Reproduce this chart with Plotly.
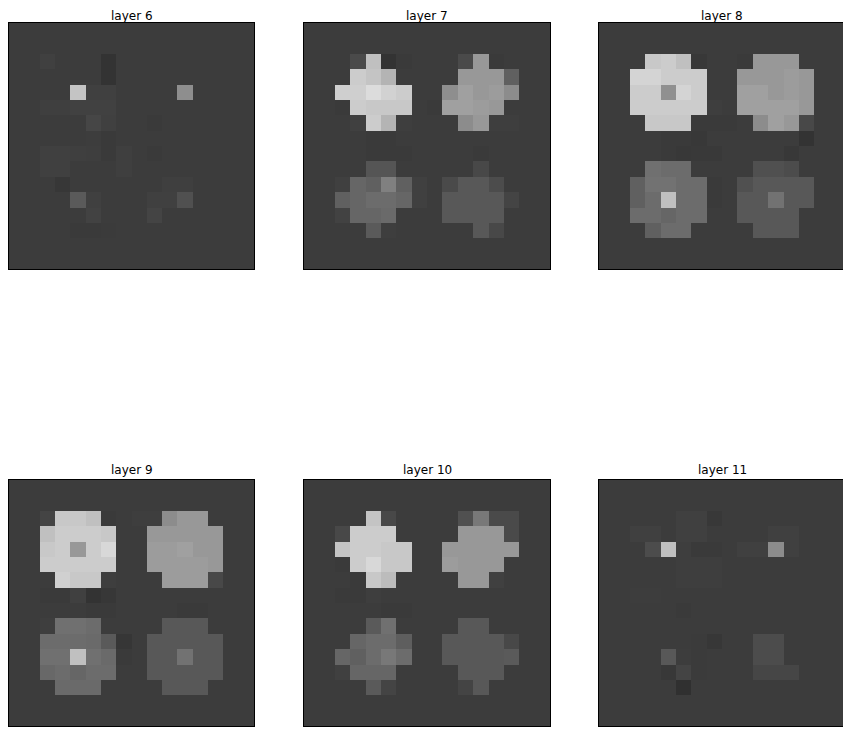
import plotly.graph_objects as go
from plotly.subplots import make_subplots

# grey levels (0-255) for each 16x16 layer
layer_titles = ["layer 6", "layer 7", "layer 8", "layer 9", "layer 10", "layer 11"]

layer6 = [
    [60, 60, 60, 60, 60, 60, 60, 60, 60, 60, 60, 60, 60, 60, 60, 60],
    [60, 60, 60, 60, 60, 60, 60, 60, 60, 60, 60, 60, 60, 60, 60, 60],
    [60, 60, 64, 60, 60, 60, 51, 60, 60, 60, 60, 60, 60, 60, 60, 60],
    [60, 60, 60, 60, 60, 60, 51, 60, 60, 60, 60, 60, 60, 60, 60, 60],
    [60, 60, 60, 60, 196, 64, 64, 60, 60, 60, 60, 142, 60, 60, 60, 60],
    [60, 60, 63, 63, 65, 65, 65, 60, 60, 60, 60, 60, 60, 60, 60, 60],
    [60, 60, 60, 60, 60, 70, 64, 60, 60, 58, 60, 60, 60, 60, 60, 60],
    [60, 60, 60, 60, 60, 61, 58, 60, 60, 60, 60, 60, 60, 60, 60, 60],
    [60, 60, 64, 64, 63, 62, 58, 63, 60, 58, 60, 60, 60, 60, 60, 60],
    [60, 60, 64, 64, 60, 60, 60, 63, 60, 60, 60, 60, 60, 60, 60, 60],
    [60, 60, 60, 55, 60, 60, 60, 60, 60, 60, 63, 63, 60, 60, 60, 60],
    [60, 60, 60, 60, 90, 64, 60, 60, 60, 64, 64, 80, 60, 60, 60, 60],
    [60, 60, 60, 60, 60, 66, 60, 60, 60, 68, 60, 60, 60, 60, 60, 60],
    [60, 60, 60, 60, 58, 58, 59, 60, 60, 60, 60, 60, 60, 60, 60, 60],
    [60, 60, 60, 60, 60, 60, 60, 60, 60, 60, 60, 60, 60, 60, 60, 60],
    [60, 60, 60, 60, 60, 60, 60, 60, 60, 60, 60, 60, 60, 60, 60, 60],
]

layer7 = [
    [60, 60, 60, 60, 60, 60, 60, 60, 60, 60, 60, 60, 60, 60, 60, 60],
    [60, 60, 60, 60, 60, 60, 60, 60, 60, 60, 60, 60, 60, 60, 60, 60],
    [60, 60, 60, 74, 192, 51, 58, 60, 60, 60, 74, 152, 58, 60, 60, 60],
    [60, 60, 60, 204, 196, 180, 60, 60, 60, 60, 152, 152, 152, 96, 60, 60],
    [60, 60, 207, 207, 220, 210, 204, 60, 60, 142, 160, 152, 156, 140, 60, 60],
    [60, 60, 58, 204, 200, 200, 200, 60, 58, 160, 160, 156, 152, 60, 60, 60],
    [60, 60, 60, 64, 204, 180, 62, 60, 60, 60, 140, 152, 62, 62, 60, 60],
    [60, 60, 60, 60, 58, 58, 60, 60, 60, 60, 60, 60, 60, 60, 60, 60],
    [60, 60, 60, 60, 58, 58, 58, 60, 60, 60, 60, 58, 60, 60, 60, 60],
    [60, 60, 60, 60, 85, 85, 60, 60, 60, 60, 60, 72, 60, 60, 60, 60],
    [60, 60, 64, 102, 96, 128, 96, 64, 60, 74, 88, 88, 76, 60, 60, 60],
    [60, 60, 96, 102, 108, 108, 102, 64, 60, 88, 88, 88, 88, 68, 60, 60],
    [60, 60, 66, 102, 102, 106, 60, 60, 60, 88, 88, 88, 88, 60, 60, 60],
    [60, 60, 60, 60, 90, 62, 60, 60, 60, 60, 60, 88, 72, 60, 60, 60],
    [60, 60, 60, 60, 60, 60, 60, 60, 60, 60, 60, 60, 60, 60, 60, 60],
    [60, 60, 60, 60, 60, 60, 60, 60, 60, 60, 60, 60, 60, 60, 60, 60],
]

layer8 = [
    [60, 60, 60, 60, 60, 60, 60, 60, 60, 60, 60, 60, 60, 60, 60, 60],
    [60, 60, 60, 60, 60, 60, 60, 60, 60, 60, 60, 60, 60, 60, 60, 60],
    [60, 60, 60, 200, 204, 192, 56, 60, 60, 58, 152, 152, 152, 60, 60, 60],
    [60, 60, 212, 212, 204, 204, 204, 60, 60, 152, 152, 152, 156, 152, 60, 60],
    [60, 60, 204, 204, 144, 212, 204, 60, 60, 160, 160, 152, 156, 152, 60, 60],
    [60, 60, 204, 204, 204, 204, 204, 62, 60, 160, 160, 160, 160, 152, 60, 60],
    [60, 60, 60, 200, 200, 200, 58, 58, 58, 60, 140, 160, 152, 72, 60, 60],
    [60, 60, 60, 60, 58, 58, 56, 60, 60, 60, 60, 60, 60, 51, 60, 60],
    [60, 60, 60, 60, 58, 56, 57, 57, 60, 60, 60, 60, 56, 60, 60, 60],
    [60, 60, 60, 112, 108, 108, 60, 60, 60, 60, 80, 80, 76, 60, 60, 60],
    [60, 60, 96, 114, 114, 108, 108, 58, 60, 80, 88, 88, 88, 88, 60, 60],
    [60, 60, 96, 108, 192, 108, 108, 58, 60, 88, 88, 114, 88, 88, 60, 60],
    [60, 60, 108, 108, 102, 108, 108, 60, 60, 88, 88, 88, 88, 60, 60, 60],
    [60, 60, 60, 96, 108, 108, 60, 60, 60, 60, 88, 88, 88, 60, 60, 60],
    [60, 60, 60, 60, 60, 60, 60, 60, 60, 60, 60, 60, 60, 60, 60, 60],
    [60, 60, 60, 60, 60, 60, 60, 60, 60, 60, 60, 60, 60, 60, 60, 60],
]

layer9 = [
    [60, 60, 60, 60, 60, 60, 60, 60, 60, 60, 60, 60, 60, 60, 60, 60],
    [60, 60, 60, 60, 60, 60, 60, 60, 60, 60, 60, 60, 60, 60, 60, 60],
    [60, 60, 68, 200, 200, 192, 58, 60, 62, 62, 140, 152, 152, 60, 60, 60],
    [60, 60, 192, 204, 204, 204, 200, 60, 60, 152, 152, 152, 152, 152, 60, 60],
    [60, 60, 200, 204, 152, 204, 216, 60, 60, 156, 156, 160, 152, 152, 60, 60],
    [60, 60, 204, 204, 204, 204, 204, 60, 60, 156, 156, 156, 156, 152, 60, 60],
    [60, 60, 60, 208, 200, 200, 62, 60, 60, 60, 156, 156, 156, 72, 60, 60],
    [60, 60, 58, 58, 64, 51, 55, 60, 60, 60, 60, 60, 60, 60, 60, 60],
    [60, 60, 60, 60, 60, 58, 58, 60, 60, 60, 60, 58, 58, 60, 60, 60],
    [60, 60, 62, 112, 112, 108, 60, 60, 60, 60, 88, 88, 88, 60, 60, 60],
    [60, 60, 108, 108, 108, 106, 90, 54, 60, 88, 88, 88, 88, 88, 60, 60],
    [60, 60, 112, 112, 192, 112, 106, 58, 60, 88, 88, 114, 88, 88, 60, 60],
    [60, 60, 104, 108, 102, 108, 108, 60, 60, 88, 88, 88, 88, 88, 60, 60],
    [60, 60, 60, 106, 106, 106, 60, 60, 60, 60, 88, 88, 88, 60, 60, 60],
    [60, 60, 60, 60, 60, 60, 60, 60, 60, 60, 60, 60, 60, 60, 60, 60],
    [60, 60, 60, 60, 60, 60, 60, 60, 60, 60, 60, 60, 60, 60, 60, 60],
]

layer10 = [
    [60, 60, 60, 60, 60, 60, 60, 60, 60, 60, 60, 60, 60, 60, 60, 60],
    [60, 60, 60, 60, 60, 60, 60, 60, 60, 60, 60, 60, 60, 60, 60, 60],
    [60, 60, 60, 60, 196, 72, 60, 60, 60, 60, 80, 120, 74, 74, 60, 60],
    [60, 60, 72, 204, 204, 204, 60, 60, 60, 60, 152, 152, 152, 74, 60, 60],
    [60, 60, 196, 204, 204, 200, 200, 60, 60, 152, 152, 152, 152, 152, 60, 60],
    [60, 60, 58, 204, 216, 200, 200, 60, 60, 156, 152, 152, 152, 60, 60, 60],
    [60, 60, 60, 58, 200, 188, 60, 60, 60, 60, 152, 152, 64, 60, 60, 60],
    [60, 60, 58, 58, 62, 60, 60, 60, 60, 60, 60, 60, 60, 60, 60, 60],
    [60, 60, 60, 60, 60, 58, 58, 60, 60, 60, 60, 60, 60, 60, 60, 60],
    [60, 60, 60, 60, 90, 112, 60, 60, 60, 60, 88, 88, 60, 60, 60, 60],
    [60, 60, 60, 102, 108, 108, 94, 60, 60, 88, 88, 88, 88, 72, 60, 60],
    [60, 60, 102, 96, 108, 120, 108, 60, 60, 88, 88, 88, 88, 90, 60, 60],
    [60, 60, 64, 102, 102, 102, 60, 60, 60, 60, 88, 88, 88, 60, 60, 60],
    [60, 60, 60, 60, 90, 68, 60, 60, 60, 60, 68, 88, 60, 60, 60, 60],
    [60, 60, 60, 60, 60, 60, 60, 60, 60, 60, 60, 60, 60, 60, 60, 60],
    [60, 60, 60, 60, 60, 60, 60, 60, 60, 60, 60, 60, 60, 60, 60, 60],
]

layer11 = [
    [60, 60, 60, 60, 60, 60, 60, 60, 60, 60, 60, 60, 60, 60, 60, 60],
    [60, 60, 60, 60, 60, 60, 60, 60, 60, 60, 60, 60, 60, 60, 60, 60],
    [60, 60, 60, 60, 60, 64, 64, 56, 60, 60, 60, 60, 60, 60, 60, 60],
    [60, 60, 64, 64, 60, 64, 64, 60, 60, 60, 60, 64, 64, 60, 60, 60],
    [60, 60, 60, 76, 192, 62, 58, 58, 60, 64, 64, 140, 64, 60, 60, 60],
    [60, 60, 60, 60, 60, 62, 62, 62, 60, 60, 60, 60, 60, 60, 60, 60],
    [60, 60, 60, 60, 60, 62, 62, 62, 60, 60, 60, 60, 60, 60, 60, 60],
    [60, 60, 61, 61, 60, 60, 60, 60, 60, 60, 60, 60, 60, 60, 60, 60],
    [60, 60, 60, 60, 60, 58, 60, 60, 60, 60, 60, 60, 60, 60, 60, 60],
    [60, 60, 60, 60, 60, 60, 60, 60, 60, 60, 60, 60, 60, 60, 60, 60],
    [60, 60, 60, 60, 60, 60, 59, 55, 60, 60, 76, 76, 60, 60, 60, 60],
    [60, 60, 60, 60, 88, 61, 59, 60, 60, 60, 76, 76, 60, 60, 60, 60],
    [60, 60, 60, 60, 56, 68, 59, 60, 60, 60, 70, 70, 70, 60, 60, 60],
    [60, 60, 60, 60, 60, 48, 60, 60, 60, 60, 60, 60, 60, 60, 60, 60],
    [60, 60, 60, 60, 60, 60, 60, 60, 60, 60, 60, 60, 60, 60, 60, 60],
    [60, 60, 60, 60, 60, 60, 60, 60, 60, 60, 60, 60, 60, 60, 60, 60],
]

layers = [layer6, layer7, layer8, layer9, layer10, layer11]

W, H = 851, 732
# panel pixel boxes inside the plot div (the page body adds ~7px offset)
col_px = [(1, 246), (296, 542), (591, 837)]
row_px = [(15, 261), (472, 718)]

fig = make_subplots(rows=2, cols=3)

for i, z in enumerate(layers):
    r, c = divmod(i, 3)
    fig.add_trace(go.Heatmap(
        z=z,
        colorscale=[[0, 'black'], [1, 'white']],
        zmin=0, zmax=255,
        showscale=False,
        hoverinfo='skip'
    ), row=r + 1, col=c + 1)

    n = i + 1
    xname = 'xaxis' if n == 1 else f'xaxis{n}'
    yname = 'yaxis' if n == 1 else f'yaxis{n}'
    x0, x1 = col_px[c]
    y0, y1 = row_px[r]
    axis_style = dict(showticklabels=False, ticks='', showgrid=False, zeroline=False,
                      showline=True, linecolor='black', linewidth=1, mirror=True)
    fig.update_layout({
        xname: dict(domain=[x0 / W, x1 / W], range=[-0.5, 15.5], **axis_style),
        yname: dict(domain=[1 - y1 / H, 1 - y0 / H], range=[15.5, -0.5], **axis_style),
    })

    # top row titles sit against the top edge so they are not clipped
    if r == 0:
        title_y, anchor = 1.0, 'top'
    else:
        title_y, anchor = 1 - (y0 - 2) / H, 'bottom'
    fig.add_annotation(
        text=layer_titles[i],
        x=(x0 + x1) / 2 / W, y=title_y,
        xref='paper', yref='paper',
        xanchor='center', yanchor=anchor,
        showarrow=False, borderpad=0,
        font=dict(family='DejaVu Sans', size=12, color='black')
    )

fig.update_layout(
    width=W, height=H,
    margin=dict(l=0, r=0, t=0, b=0),
    paper_bgcolor='white',
    plot_bgcolor='white',
    showlegend=False
)

fig.write_html("out.html")
